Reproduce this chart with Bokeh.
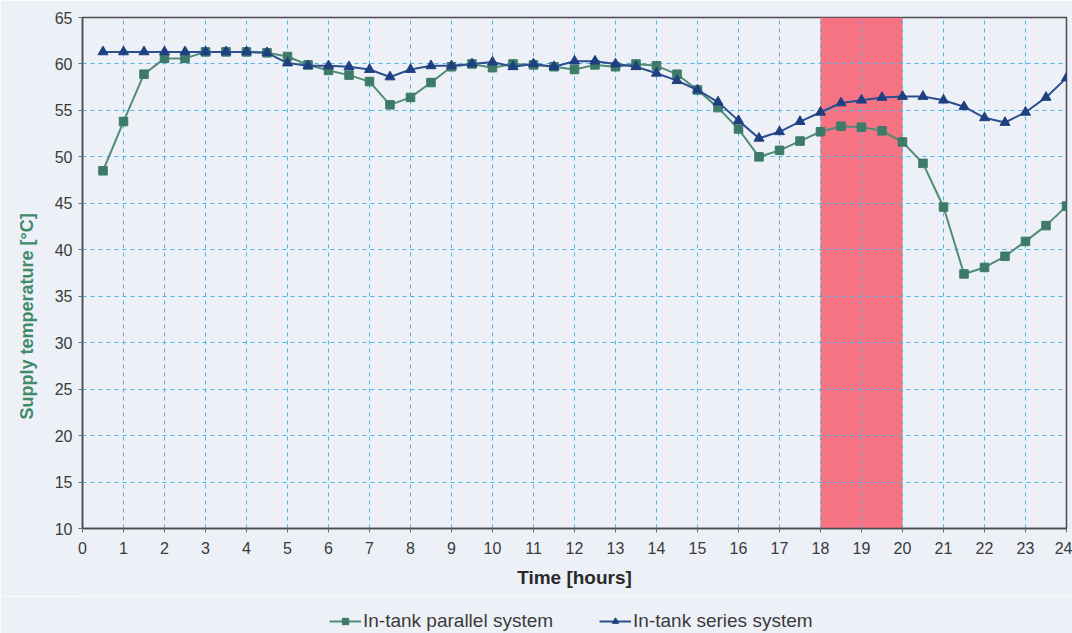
from bokeh.plotting import figure
from bokeh.layouts import column
from bokeh.models import BoxAnnotation, Legend, LegendItem, FixedTicker, Title
from bokeh.embed import file_html
from bokeh.resources import INLINE

# Time of day (hours), one reading every half hour
hours = [0.5, 1.0, 1.5, 2.0, 2.5, 3.0, 3.5, 4.0, 4.5, 5.0, 5.5, 6.0,
         6.5, 7.0, 7.5, 8.0, 8.5, 9.0, 9.5, 10.0, 10.5, 11.0, 11.5, 12.0,
         12.5, 13.0, 13.5, 14.0, 14.5, 15.0, 15.5, 16.0, 16.5, 17.0, 17.5, 18.0,
         18.5, 19.0, 19.5, 20.0, 20.5, 21.0, 21.5, 22.0, 22.5, 23.0, 23.5, 24.0]

# Supply temperature [°C], in-tank parallel system
parallel = [48.5, 53.8, 58.9, 60.6, 60.6, 61.3, 61.3, 61.3, 61.2, 60.8, 59.9, 59.3,
            58.8, 58.1, 55.6, 56.4, 58.0, 59.7, 60.0, 59.6, 60.0, 59.9, 59.7, 59.4,
            59.9, 59.7, 60.0, 59.8, 58.9, 57.2, 55.3, 53.0, 50.0, 50.7, 51.7, 52.7,
            53.3, 53.2, 52.8, 51.6, 49.3, 44.6, 37.4, 38.1, 39.3, 40.9, 42.6, 44.7]

# Supply temperature [°C], in-tank series system
series = [61.3, 61.3, 61.3, 61.3, 61.3, 61.3, 61.3, 61.3, 61.2, 60.1, 59.8, 59.8,
          59.7, 59.4, 58.6, 59.4, 59.8, 59.8, 60.0, 60.2, 59.7, 60.0, 59.7, 60.3,
          60.3, 60.0, 59.7, 59.0, 58.2, 57.2, 55.9, 53.9, 52.0, 52.7, 53.8, 54.8,
          55.8, 56.1, 56.4, 56.5, 56.5, 56.1, 55.4, 54.2, 53.7, 54.8, 56.4, 58.5]

series_names = ["In-tank parallel system", "In-tank series system"]

# Peak-demand window highlighted on the chart
peak_start, peak_end = 18, 20

x_ticks = list(range(0, 25))
y_ticks = list(range(10, 66, 5))

BG = "#eef0f7"
GREEN = "#4f8c76"
GREEN_MK = "#3d7a68"
BLUE = "#2b4f8f"
BLUE_MK = "#1e3f80"
GRID = "#4fb4ea"
TEXT = "#3a3a3a"
FONT = "Liberation Sans"

p = figure(frame_width=984, frame_height=511, x_range=(0, 24), y_range=(10, 65),
           output_backend="svg", toolbar_location=None,
           min_border_left=82, min_border_right=6,
           min_border_top=17, min_border_bottom=68)

p.background_fill_color = BG
p.border_fill_color = BG
p.outline_line_color = "#4a4a50"
p.outline_line_width = 1.5

peak = BoxAnnotation(left=peak_start, right=peak_end, fill_color="#f46b7c",
                     fill_alpha=0.95, line_color=None, level="image")
p.add_layout(peak)

for g in (p.xgrid, p.ygrid):
    g.grid_line_color = GRID
    g.grid_line_dash = "4 4"
    g.grid_line_width = 1
p.xgrid.ticker = FixedTicker(ticks=x_ticks)
p.ygrid.ticker = FixedTicker(ticks=y_ticks)

p.xaxis.ticker = FixedTicker(ticks=x_ticks)
p.yaxis.ticker = FixedTicker(ticks=y_ticks)
for ax in (p.xaxis, p.yaxis):
    ax.axis_line_color = "#4a4a50"
    ax.axis_line_width = 1.5
    ax.major_tick_line_color = "#6a6a70"
    ax.major_tick_out = 4
    ax.major_tick_in = 0
    ax.minor_tick_line_color = None
    ax.major_label_text_font = FONT
    ax.major_label_text_font_size = "16px"
    ax.major_label_text_color = TEXT

p.xaxis.axis_label = "Time [hours]"
p.xaxis.axis_label_text_font = FONT
p.xaxis.axis_label_text_font_style = "bold"
p.xaxis.axis_label_text_font_size = "19px"
p.xaxis.axis_label_text_color = "#2a2a2a"
p.xaxis.major_label_standoff = 9
p.xaxis.axis_label_standoff = 10

p.yaxis.major_label_standoff = 6

# Vertical axis title, placed in the lower part of the left margin
ytitle = Title(text="Supply temperature [°C]", align="left", offset=109,
               text_font=FONT, text_font_style="bold", text_font_size="18px",
               text_color="#3f8a6c", standoff=29)
p.add_layout(ytitle, "left")

p.line(hours, parallel, line_color=GREEN, line_width=2)
p.scatter(hours, parallel, marker="square", size=8.5,
          fill_color=GREEN_MK, line_color=GREEN_MK)
p.line(hours, series, line_color=BLUE, line_width=2)
p.scatter(hours, series, marker="triangle", size=10,
          fill_color=BLUE_MK, line_color=BLUE_MK)

# Legend strip under the chart; its sample glyphs sit outside the visible range
leg = figure(width=1072, height=37, output_backend="svg", toolbar_location=None,
             x_axis_type=None, y_axis_type=None, x_range=(0, 1), y_range=(0, 1),
             min_border_left=82, min_border_right=0, min_border_top=0,
             min_border_bottom=0)
leg.background_fill_color = BG
leg.border_fill_color = BG
leg.outline_line_color = None
leg.grid.visible = False

lp1 = leg.line([-5, -4], [-5, -4], line_color=GREEN, line_width=2)
mp1 = leg.scatter([-5], [-5], marker="square", fill_color=GREEN_MK, line_color=GREEN_MK)
lp2 = leg.line([-5, -4], [-5, -4], line_color=BLUE, line_width=2)
mp2 = leg.scatter([-5], [-5], marker="triangle", fill_color=BLUE_MK, line_color=BLUE_MK)

legend = Legend(items=[
    LegendItem(label=series_names[0], renderers=[lp1, mp1]),
    LegendItem(label=series_names[1], renderers=[lp2, mp2]),
], orientation="horizontal", location=(247, 1))
legend.background_fill_alpha = 0
legend.border_line_alpha = 0
legend.label_text_font = FONT
legend.label_text_font_size = "19px"
legend.label_text_color = TEXT
legend.glyph_width = 32
legend.glyph_height = 16
legend.label_height = 20
legend.label_standoff = 2
legend.spacing = 46
legend.padding = 0
legend.margin = 0
leg.add_layout(legend)

layout = column(p, leg, spacing=0)
open("out.html", "w").write(file_html(layout, INLINE))
